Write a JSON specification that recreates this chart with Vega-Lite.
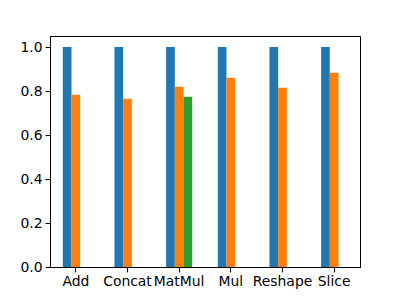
{
  "$schema": "https://vega.github.io/schema/vega-lite/v6.json",
  "autosize": "none",
  "padding": {"left": 50, "top": 36, "right": 40, "bottom": 33},
  "width": 310,
  "height": 231,
  "background": "white",
  "config": {
    "view": {"stroke": "black", "strokeWidth": 1},
    "axis": {
      "labelFont": "DejaVu Sans", "labelFontSize": 13.9, "labelColor": "black",
      "domainColor": "black", "tickColor": "black", "tickSize": 4.9, "tickWidth": 1.1,
      "grid": false, "title": null, "labelPadding": 3
    }
  },
  "data": {"values": [
    {"op": "Add", "series": "s1", "value": 1.0},
    {"op": "Add", "series": "s2", "value": 0.783},
    {"op": "Concat", "series": "s1", "value": 1.0},
    {"op": "Concat", "series": "s2", "value": 0.765},
    {"op": "MatMul", "series": "s1", "value": 1.0},
    {"op": "MatMul", "series": "s2", "value": 0.819},
    {"op": "MatMul", "series": "s3", "value": 0.774},
    {"op": "Mul", "series": "s1", "value": 1.0},
    {"op": "Mul", "series": "s2", "value": 0.860},
    {"op": "Reshape", "series": "s1", "value": 1.0},
    {"op": "Reshape", "series": "s2", "value": 0.815},
    {"op": "Slice", "series": "s1", "value": 1.0},
    {"op": "Slice", "series": "s2", "value": 0.883}
  ]},
  "mark": {"type": "bar"},
  "encoding": {
    "x": {
      "field": "op", "type": "nominal", "sort": null,
      "scale": {"paddingInner": 0.495, "paddingOuter": 0.2475},
      "axis": {"labelAngle": 0}
    },
    "xOffset": {
      "field": "series", "type": "nominal",
      "scale": {"domain": ["s1", "s2", "s3"], "paddingInner": 0, "paddingOuter": 0}
    },
    "y": {
      "field": "value", "type": "quantitative",
      "scale": {"domain": [0, 1.05], "nice": false},
      "axis": {"values": [0, 0.2, 0.4, 0.6, 0.8, 1.0], "format": ".1f"}
    },
    "color": {
      "field": "series", "type": "nominal", "legend": null,
      "scale": {"domain": ["s1", "s2", "s3"], "range": ["#1f77b4", "#ff7f0e", "#2ca02c"]}
    }
  }
}
